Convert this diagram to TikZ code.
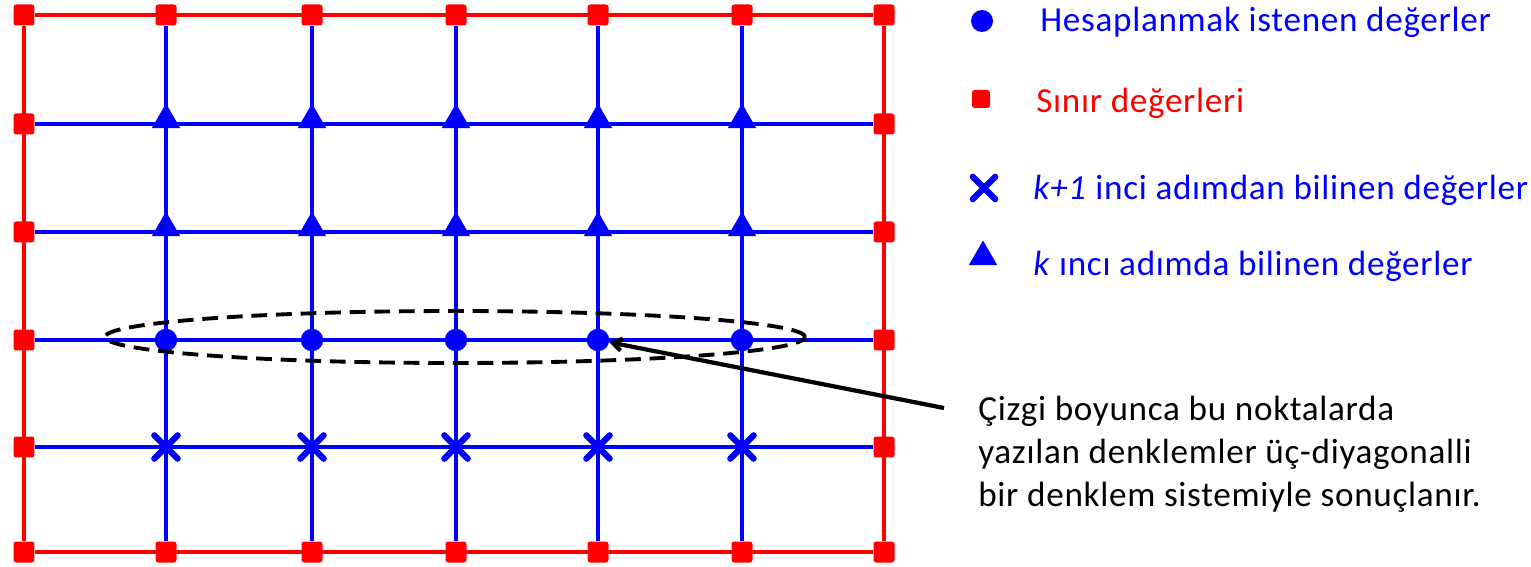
\documentclass[tikz,border=0pt]{standalone}
\usepackage{fontspec}
\setmainfont{Carlito}
\usetikzlibrary{shapes.geometric,shapes.misc,arrows.meta}

\begin{document}
\begin{tikzpicture}[
  x=0.02cm, y=-0.02cm,
  >=Stealth,
  every node/.style={inner sep=0pt},
  bnd/.style={rectangle,fill=red,minimum size=0.42cm,rounded corners=1.5pt},
  unk/.style={circle,fill=blue,minimum size=0.45cm},
  known/.style={regular polygon,regular polygon sides=3,fill=blue,minimum size=0.66cm},
  prev/.style={cross out,draw=blue,line width=3.6pt,line cap=round,minimum size=0.34cm},
  txt/.style={anchor=base west,font=\fontsize{20}{24.5}\selectfont\addfontfeature{LetterSpace=2}},
  gridb/.style={blue,line width=2.2pt},
  gridr/.style={red,line width=2.2pt}
]
  \useasboundingbox (0,0) rectangle (1531,567);
  % boundary points
  \foreach \x/\i in {24/1,166/2,312/3,456/4,598/5,742/6,884/7} {
    \node[bnd] (p-\i-1) at (\x,15) {};
    \node[bnd] (p-\i-6) at (\x,552) {};
  }
  \foreach \y/\j in {124/2,232/3,340/4,447/5} {
    \node[bnd] (p-1-\j) at (24,\y) {};
    \node[bnd] (p-7-\j) at (884,\y) {};
  }
  % interior points
  \foreach \x/\i in {166/2,312/3,456/4,598/5,742/6} {
    \node[known] (p-\i-2) at (\x,120) {};
    \node[known] (p-\i-3) at (\x,228) {};
    \node[unk] (p-\i-4) at (\x,340) {};
    \node[prev] (p-\i-5) at (\x,447) {};
  }
  % grid lines
  \foreach \i in {2,...,6}
    \draw[gridb] (p-\i-1) -- (p-\i-6);
  \foreach \j in {2,...,5}
    \draw[gridb] (p-1-\j) -- (p-7-\j);
  \draw[gridr] (p-1-1) -- (p-7-1) -- (p-7-6) -- (p-1-6) -- (p-1-1);

  % the line being solved
  \draw[line width=2.2pt,dash pattern=on 9pt off 5pt]
    (455,337) ellipse [x radius=7cm, y radius=0.52cm];

  % legend
  \node[unk,minimum size=0.44cm] (l-unk) at (982,21) {};
  \node[bnd,minimum size=0.36cm] (l-bnd) at (981,99) {};
  \node[prev,minimum size=0.32cm] (l-prev) at (984,188) {};
  \node[known,minimum size=0.66cm] (l-known) at (983,257) {};
  \node[txt,text=blue] (t-unk) at (1040,32) {Hesaplanmak istenen değerler};
  \node[txt,text=red] (t-bnd) at (1036,113) {Sınır değerleri};
  \node[txt,text=blue] (t-prev) at (1033,200) {\textit{k+1} inci adımdan bilinen değerler};
  \node[txt,text=blue] (t-known) at (1033,276) {\textit{k} ıncı adımda bilinen değerler};

  % note
  \node[txt,anchor=north west,align=left] (note) at (978,396)
    {Çizgi boyunca bu noktalarda\\yazılan denklemler üç-diyagonalli\\bir denklem sistemiyle sonuçlanır.};
  \coordinate (tail) at (944,408);
  \draw[-{Straight Barb[length=5pt,width=7pt]},line width=2.4pt] (tail) -- (p-5-4);
\end{tikzpicture}
\end{document}
